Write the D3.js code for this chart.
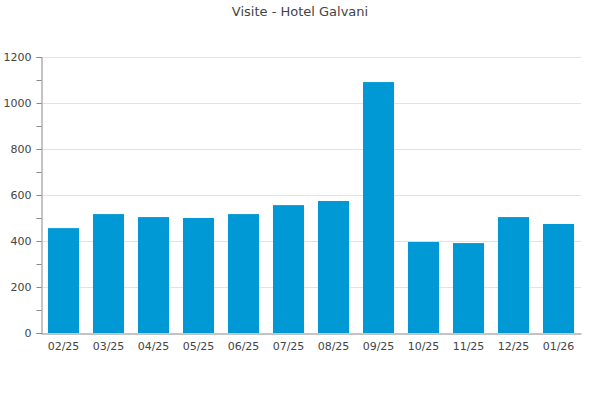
<!DOCTYPE html>
<html><head><meta charset="utf-8">
<script src="https://cdn.jsdelivr.net/npm/d3@7"></script>
<style>body{margin:0;background:#fff}svg{display:block}text{font-family:"DejaVu Sans",sans-serif}</style>
</head><body><svg width="600" height="400"></svg>
<script>
const categories=["02/25","03/25","04/25","05/25","06/25","07/25","08/25","09/25","10/25","11/25","12/25","01/26"];
const visits=[456,517,504,500,517,556,574,1091,396,391,504,474];
const yTicks=[0,200,400,600,800,1000,1200];
const title="Visite - Hotel Galvani";

const svg=d3.select("svg");
const m={l:41,r:19,t:57,b:67};
const W=600,H=400;
const x=d3.scaleBand().domain(categories).range([m.l,W-m.r]).paddingInner(0.31).paddingOuter(0.155);
const y=d3.scaleLinear().domain([0,1200]).range([H-m.b,m.t]);

svg.append("text").attr("x",300).attr("y",16).attr("text-anchor","middle").attr("font-size",13).attr("fill","#444").text(title);

svg.append("g").selectAll("line").data(yTicks.slice(1)).join("line")
 .attr("x1",m.l).attr("x2",W-m.r).attr("y1",d=>y(d)+0.5).attr("y2",d=>y(d)+0.5).attr("stroke","#e3e3e3");

svg.append("g").selectAll("rect").data(visits).join("rect")
 .attr("x",(d,i)=>x(categories[i])).attr("width",x.bandwidth())
 .attr("y",d=>y(d)).attr("height",d=>y(0)-y(d)).attr("fill","#0099d5");

const ya=svg.append("g").attr("transform",`translate(${m.l+0.5},0)`)
 .call(d3.axisLeft(y).tickValues(d3.range(0,1201,100)).tickSize(5).tickFormat(d=>d%200===0?d:""));
ya.select(".domain").attr("stroke","#888");
ya.selectAll(".tick line").attr("stroke","#888");
ya.selectAll(".tick text").attr("fill","#444").attr("font-size",11).attr("dx",-2);

const xa=svg.append("g").attr("transform",`translate(0,${H-m.b+0.5})`)
 .call(d3.axisBottom(x).tickSize(0).tickPadding(9));
xa.select(".domain").attr("stroke","#888");
xa.selectAll(".tick text").attr("fill","#444").attr("font-size",11);
</script></body></html>
